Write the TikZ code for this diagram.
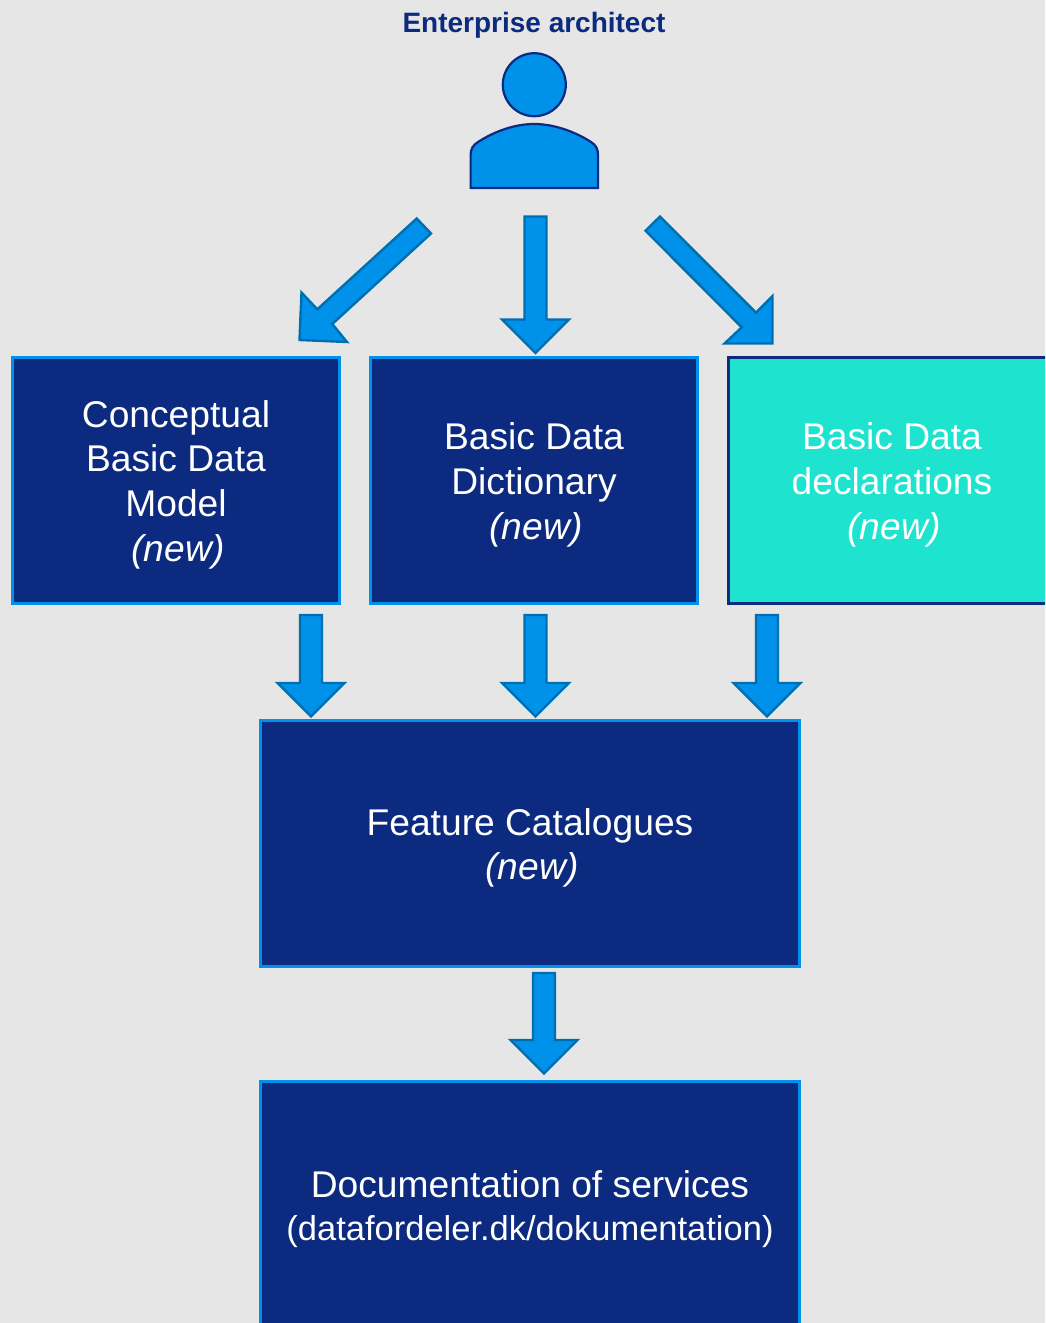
\documentclass[tikz,border=0pt]{standalone}
\usepackage{fontspec}
\setmainfont{Liberation Sans}
\definecolor{bgc}{HTML}{E6E6E6}
\definecolor{navy}{HTML}{0B2A80}
\definecolor{sky}{HTML}{0091EA}
\definecolor{skyedge}{HTML}{006FB0}
\definecolor{teal}{HTML}{1EE3CF}
\newcommand{\downarrowshape}[4]{% centre x, top y, neck y, tip y
  \draw[blockarrow] (#1-11,#2) -- (#1+11,#2) -- (#1+11,#3) -- (#1+33.5,#3) -- (#1,#4) -- (#1-33.5,#3) -- (#1-11,#3) -- cycle;}
\tikzset{
  x=1pt,y=-1pt,
  box/.style={draw=sky,fill=navy,line width=3pt,inner sep=0pt,outer sep=0pt,anchor=north west},
  tealbox/.style={box,draw=navy,fill=teal},
  label/.style={text=white,align=center,font=\fontsize{37.2}{44.7}\selectfont,inner sep=0pt},
  blockarrow/.style={draw=skyedge,fill=sky,line width=2.4pt,line join=miter},
  personpart/.style={draw=navy,fill=sky,line width=2.2pt},
}
\begin{document}
\begin{tikzpicture}
\clip (0,0) rectangle (1045,1323);
\fill[bgc] (0,0) rectangle (1045,1323);
% title and person
\node[text=navy,font=\bfseries\fontsize{28}{32}\selectfont,inner sep=0pt] (title) at (534,25) {Enterprise architect};
\node[personpart,circle,minimum size=63pt,inner sep=0pt,outer sep=0pt] (head) at (534.3,84.7) {};
\draw[personpart] (470.6,188) -- (470.6,155) .. controls (470.6,149) and (473,145) .. (478,142) .. controls (495,131) and (515,124) .. (534.3,124) .. controls (553,124) and (574,131) .. (591,142) .. controls (596,145) and (598,149) .. (598,155) -- (598,188) -- cycle;
% boxes
\node[box,minimum width=327.7pt,minimum height=246pt] (cbdm) at (12,357) {};
\node[box,minimum width=327pt,minimum height=246pt] (bdd) at (370.6,357) {};
\node[tealbox,minimum width=340pt,minimum height=246pt] (decl) at (728,357) {};
\node[box,minimum width=539.5pt,minimum height=246pt] (fc) at (260.3,720) {};
\node[box,minimum width=539.5pt,minimum height=280pt] (docs) at (260.3,1081) {};
% labels
\node[label] (t1) at (176,484.6) {Conceptual\\Basic Data\\Model\\\hspace*{4pt}\textit{(new)}};
\node[label] (t2) at (534,485) {Basic Data\\Dictionary\\\hspace*{4pt}\textit{(new)}};
\node[label] (t3) at (892,485) {Basic Data\\declarations\\\hspace*{4pt}\textit{(new)}};
\node[label] (t4) at (530,848) {Feature Catalogues\\\hspace*{4pt}\textit{(new)}};
\node[label,font=\fontsize{37.2}{43}\selectfont] (t5) at (530,1208.8) {Documentation of services\\{\fontsize{34.5}{43}\selectfont(datafordeler.dk/dokumentation)}};
% block arrows
\draw[blockarrow] (416.7,218.5) -- (431,233.5) -- (332.3,324) -- (347,342) -- (299.5,340) -- (301.5,292.5) -- (317.3,309.3) -- cycle;
\downarrowshape{535.5}{216.5}{319.5}{353}
\draw[blockarrow] (660,216.5) -- (645.5,230.7) -- (741.7,327.3) -- (724.5,343.5) -- (772.5,343.5) -- (772.5,296) -- (756,312.7) -- cycle;
\downarrowshape{311}{615}{683}{716.5}
\downarrowshape{535.5}{615}{683}{716.5}
\downarrowshape{767}{615}{683}{716.5}
\downarrowshape{544}{973}{1040}{1073.5}
\end{tikzpicture}
\end{document}
